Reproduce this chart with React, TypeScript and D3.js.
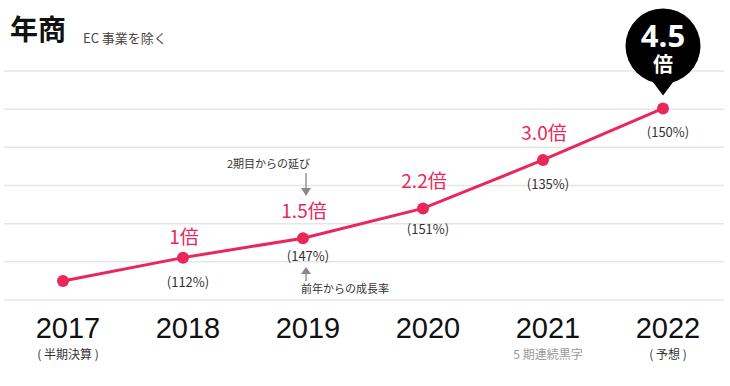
import React from 'react';
import * as d3 from 'd3';

// chart data
const years = ['2017', '2018', '2019', '2020', '2021', '2022'];
const sales = [0.5, 1.11, 1.62, 2.4, 3.67, 5.02]; // plotted height, in gridline units
const multiples = ['', '1倍', '1.5倍', '2.2倍', '3.0倍', '4.5'];
const growth = ['', '(112%)', '(147%)', '(151%)', '(135%)', '(150%)'];
const notes = ['( 半期決算 )', '', '', '', '5 期連続黒字', '( 予想 )'];
const noteGray = [false, false, false, false, true, false];

const W = 730;
const H = 386;
const RED = '#e8285a';
const FONT = '"Noto Sans CJK JP", "Noto Sans", sans-serif';

export default function App() {
  const x = d3.scalePoint<string>().domain(years).range([63, 663]);
  const y = d3.scaleLinear().domain([0, 6]).range([300, 71]);
  const line = d3.line<number>()
    .x((d, i) => x(years[i]) as number)
    .y(d => y(d));

  const last = years.length - 1;
  const bx = x(years[last]) as number;
  const by = 46;
  const br = 37.5;
  const tailTip = y(sales[last]) - 13;

  const ann = x(years[2]) as number; // annotations sit on 2019

  return (
    <svg width={W} height={H} style={{ position: 'absolute', left: 0, top: 0, background: '#fff' }}
      fontFamily={FONT}>
      {/* title */}
      <text x={10} y={40} fontSize={28} fontWeight="bold" fill="#111">年商</text>
      <text x={83} y={43} fontSize={13} fill="#444">EC 事業を除く</text>

      {/* gridlines */}
      {y.ticks(6).map(t => (
        <line key={t} x1={4} x2={724} y1={y(t)} y2={y(t)} stroke="#e6e6e6" strokeWidth={1.5} />
      ))}

      {/* series */}
      <path d={line(sales) || ''} fill="none" stroke={RED} strokeWidth={3} />
      {sales.map((v, i) => (
        <circle key={i} cx={x(years[i])} cy={y(v)} r={6} fill={RED} />
      ))}

      {/* multiplier labels above points */}
      {sales.map((v, i) => (i > 0 && i < last ? (
        <text key={i} x={(x(years[i]) as number) + 1} y={y(v) - (i === 1 ? 14 : 20)} fontSize={19}
          fill={RED} textAnchor="middle">{multiples[i]}</text>
      ) : null))}

      {/* growth labels below points */}
      {sales.map((v, i) => (i > 0 ? (
        <text key={i} x={(x(years[i]) as number) + 5} y={y(v) + (i === 2 ? 23 : i === 3 ? 26 : 29)}
          fontSize={13} fill="#333" textAnchor="middle">{growth[i]}</text>
      ) : null))}

      {/* x-axis years */}
      {years.map(yr => (
        <text key={yr} x={(x(yr) as number) + 5} y={338} fontSize={29} fill="#111" textAnchor="middle"
          fontFamily='"Liberation Sans", Arial, sans-serif'>{yr}</text>
      ))}
      {years.map((yr, i) => (notes[i] ? (
        <text key={yr} x={(x(yr) as number) + 5} y={358.5} fontSize={12} textAnchor="middle"
          fill={noteGray[i] ? '#999' : '#333'}>{notes[i]}</text>
      ) : null))}

      {/* annotations */}
      <text x={ann + 7} y={168} fontSize={11} fill="#333" textAnchor="end">2期目からの延び</text>
      <line x1={ann + 3} x2={ann + 3} y1={173} y2={190} stroke="#888" strokeWidth={1.3} />
      <path d={`M${ann - 2},188 L${ann + 8},188 L${ann + 3},196 Z`} fill="#888" />
      <line x1={ann + 3} x2={ann + 3} y1={273} y2={281} stroke="#888" strokeWidth={1.3} />
      <path d={`M${ann - 2},274 L${ann + 8},274 L${ann + 3},267 Z`} fill="#888" />
      <text x={ann - 2} y={293} fontSize={11} fill="#333">前年からの成長率</text>

      {/* balloon for 2022 */}
      <circle cx={bx} cy={by} r={br} fill="#000" />
      <path d={`M${bx - 12},${by + br - 4} L${bx + 12},${by + br - 4} L${bx},${tailTip} Z`} fill="#000" />
      <text x={bx} y={47} fontWeight="bold" fill="#fff" textAnchor="middle" fontSize={31}
        fontFamily='"Open Sans", sans-serif'>{multiples[last]}</text>
      <text x={bx} y={71.5} fontWeight="bold" fill="#fff" textAnchor="middle" fontSize={20}>倍</text>
    </svg>
  );
}
